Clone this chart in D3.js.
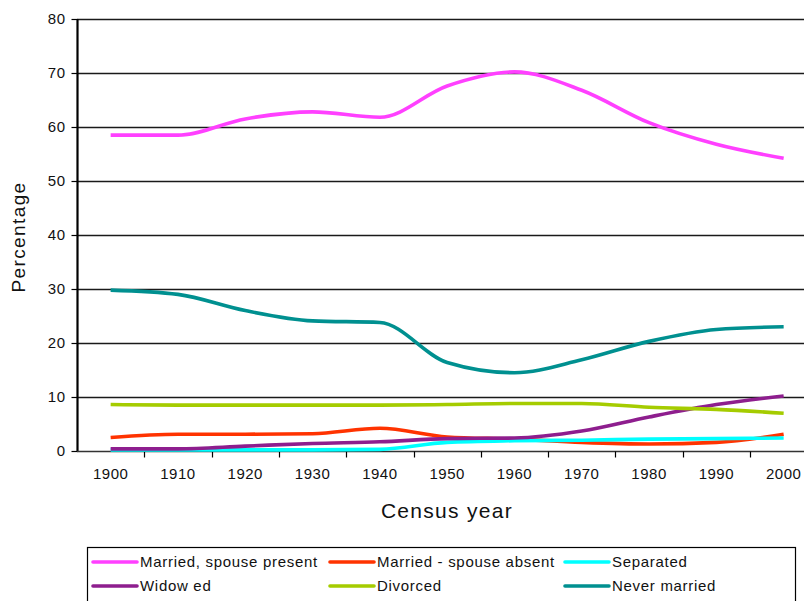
<!DOCTYPE html>
<html>
<head>
<meta charset="utf-8">
<script src="https://cdn.jsdelivr.net/npm/d3@7"></script>
<style>
  body { margin: 0; background: #fff; }
  svg { display: block; font-family: "Liberation Sans", Arial, sans-serif; }
</style>
</head>
<body>
<div id="chart"></div>
<script>

// census years (categories)
var years = ["1900", "1910", "1920", "1930", "1940", "1950", "1960", "1970", "1980", "1990", "2000"];

// series values, percentage
var marriedPresent = [58.5, 58.5, 61.5, 62.8, 61.8, 67.6, 70.2, 66.8, 60.8, 56.8, 54.2];
var marriedAbsent  = [2.5, 3.1, 3.1, 3.2, 4.2, 2.6, 2.2, 1.6, 1.3, 1.6, 3.1];
var separated      = [0.2, 0.2, 0.2, 0.2, 0.3, 1.6, 1.9, 2.0, 2.2, 2.3, 2.4];
var widowed        = [0.4, 0.4, 0.9, 1.4, 1.7, 2.3, 2.4, 3.7, 6.3, 8.6, 10.2];
var divorced       = [8.6, 8.5, 8.5, 8.5, 8.5, 8.6, 8.8, 8.8, 8.1, 7.7, 7.0];
var neverMarried   = [29.8, 29.0, 26.0, 24.1, 23.8, 16.4, 14.5, 16.9, 20.3, 22.5, 23.0];

var seriesNames = ["Married, spouse present", "Married - spouse absent", "Separated", "Widow ed", "Divorced", "Never married"];
var yTicks = [0, 10, 20, 30, 40, 50, 60, 70, 80];


MaritalChart = function(container){

    var self = this;

    this.container = container;
    this.series = [marriedPresent, marriedAbsent, separated, widowed, divorced, neverMarried];
    this.colors = ["#ff40ff", "#ff3300", "#00ffff", "#8e1e8e", "#a5cc00", "#009090"];

    this._init();

};

MaritalChart.prototype._init = function(){

    this._build_graph();
    this._draw_grid();
    this._draw_axes();
    this._draw_lines();
    this._draw_titles();
    this._draw_legend();

};

MaritalChart.prototype._build_graph = function(){

    this.full_width = 804;
    this.full_height = 601;

    // plot area; right edge runs past the picture like in the original
    this.left = 77;
    this.top = 19;
    this.bottom = 451;
    this.bandW = 67.3;

    this.x = d3.scaleBand()
        .domain(years)
        .range([this.left, this.left + years.length * this.bandW]);

    this.y = d3.scaleLinear()
        .domain([0, 80])
        .range([this.bottom, this.top]);

    this._svg = d3.select(this.container)
        .append("svg")
        .attr("width", this.full_width)
        .attr("height", this.full_height);

};

MaritalChart.prototype._draw_grid = function(){

    var self = this;
    var right = this.x.range()[1];

    this._svg.append("g")
        .selectAll("line")
        .data(yTicks.filter(function(d){ return d > 0; }))
        .join("line")
        .attr("x1", this.left)
        .attr("x2", right)
        .attr("y1", function(d){ return Math.round(self.y(d)) + 0.5; })
        .attr("y2", function(d){ return Math.round(self.y(d)) + 0.5; })
        .attr("stroke", "#1a1a1a")
        .attr("stroke-width", 1.3);

};

MaritalChart.prototype._draw_axes = function(){

    var self = this;

    var yAxis = d3.axisLeft(this.y)
        .tickValues(yTicks)
        .tickSize(6)
        .tickPadding(6);

    var gy = this._svg.append("g")
        .attr("transform", "translate(" + (this.left + 0.5) + ",0)")
        .call(yAxis);

    gy.select(".domain").attr("stroke", "#000").attr("stroke-width", 2.2).attr("d", "M0," + this.bottom + "V" + this.top);
    gy.selectAll(".tick line").attr("stroke", "#000").attr("stroke-width", 1.2);
    gy.selectAll("text")
        .attr("font-size", "15px")
        .attr("letter-spacing", "0.5px")
        .attr("fill", "#111");

    // x axis with ticks between categories
    var gx = this._svg.append("g")
        .attr("transform", "translate(0," + (this.bottom + 0.5) + ")");

    gx.append("line")
        .attr("x1", this.left)
        .attr("x2", this.x.range()[1])
        .attr("stroke", "#333")
        .attr("stroke-width", 1.5);

    gx.selectAll(".tick")
        .data(years.slice(1))
        .join("line")
        .attr("class", "tick")
        .attr("x1", function(d){ return Math.round(self.x(d)) + 0.5; })
        .attr("x2", function(d){ return Math.round(self.x(d)) + 0.5; })
        .attr("y1", 0)
        .attr("y2", 6)
        .attr("stroke", "#000")
        .attr("stroke-width", 1.2);

    gx.selectAll(".lbl")
        .data(years)
        .join("text")
        .attr("class", "lbl")
        .attr("x", function(d){ return self.x(d) + self.x.bandwidth() / 2; })
        .attr("y", 27)
        .attr("text-anchor", "middle")
        .attr("font-size", "15px")
        .attr("letter-spacing", "0.5px")
        .attr("fill", "#111")
        .text(function(d){ return d; });

};

MaritalChart.prototype._draw_lines = function(){

    var self = this;

    // smoothed like the spreadsheet, but without overshoot on the flat parts
    var line = d3.line()
        .x(function(d, i){ return self.x(years[i]) + self.x.bandwidth() / 2; })
        .y(function(d){ return self.y(d); })
        .curve(d3.curveMonotoneX);

    this._svg.append("g")
        .selectAll("path")
        .data(this.series)
        .join("path")
        .attr("d", line)
        .attr("fill", "none")
        .attr("stroke", function(d, i){ return self.colors[i]; })
        .attr("stroke-width", 3.6)
        .attr("stroke-linejoin", "round");

};

MaritalChart.prototype._draw_titles = function(){

    this._svg.append("text")
        .attr("x", 447)
        .attr("y", 518)
        .attr("text-anchor", "middle")
        .attr("font-size", "21px")
        .attr("letter-spacing", "1.3px")
        .attr("fill", "#111")
        .text("Census year");

    this._svg.append("text")
        .attr("transform", "translate(25,237) rotate(-90)")
        .attr("text-anchor", "middle")
        .attr("font-size", "19px")
        .attr("letter-spacing", "1.4px")
        .attr("fill", "#111")
        .text("Percentage");

};

MaritalChart.prototype._draw_legend = function(){

    var self = this;

    var colX = [93, 330, 565];
    var rowY = [562, 586];
    var sample = 44;

    this._svg.append("rect")
        .attr("x", 87.5)
        .attr("y", 547.5)
        .attr("width", 708)
        .attr("height", 80)
        .attr("fill", "#fff")
        .attr("stroke", "#000")
        .attr("stroke-width", 1.2);

    var item = this._svg.append("g")
        .selectAll("g")
        .data(seriesNames)
        .join("g")
        .attr("transform", function(d, i){
            return "translate(" + colX[i % 3] + "," + rowY[Math.floor(i / 3)] + ")";
        });

    item.append("line")
        .attr("x1", 0)
        .attr("x2", sample)
        .attr("stroke", function(d, i){ return self.colors[i]; })
        .attr("stroke-width", 3.6)
        .attr("stroke-linecap", "round");

    item.append("text")
        .attr("x", sample + 3)
        .attr("y", 5)
        .attr("font-size", "15px")
        .attr("letter-spacing", "0.7px")
        .attr("fill", "#111")
        .text(function(d){ return d; });

};

var chart = new MaritalChart("#chart");

</script>
</body>
</html>
